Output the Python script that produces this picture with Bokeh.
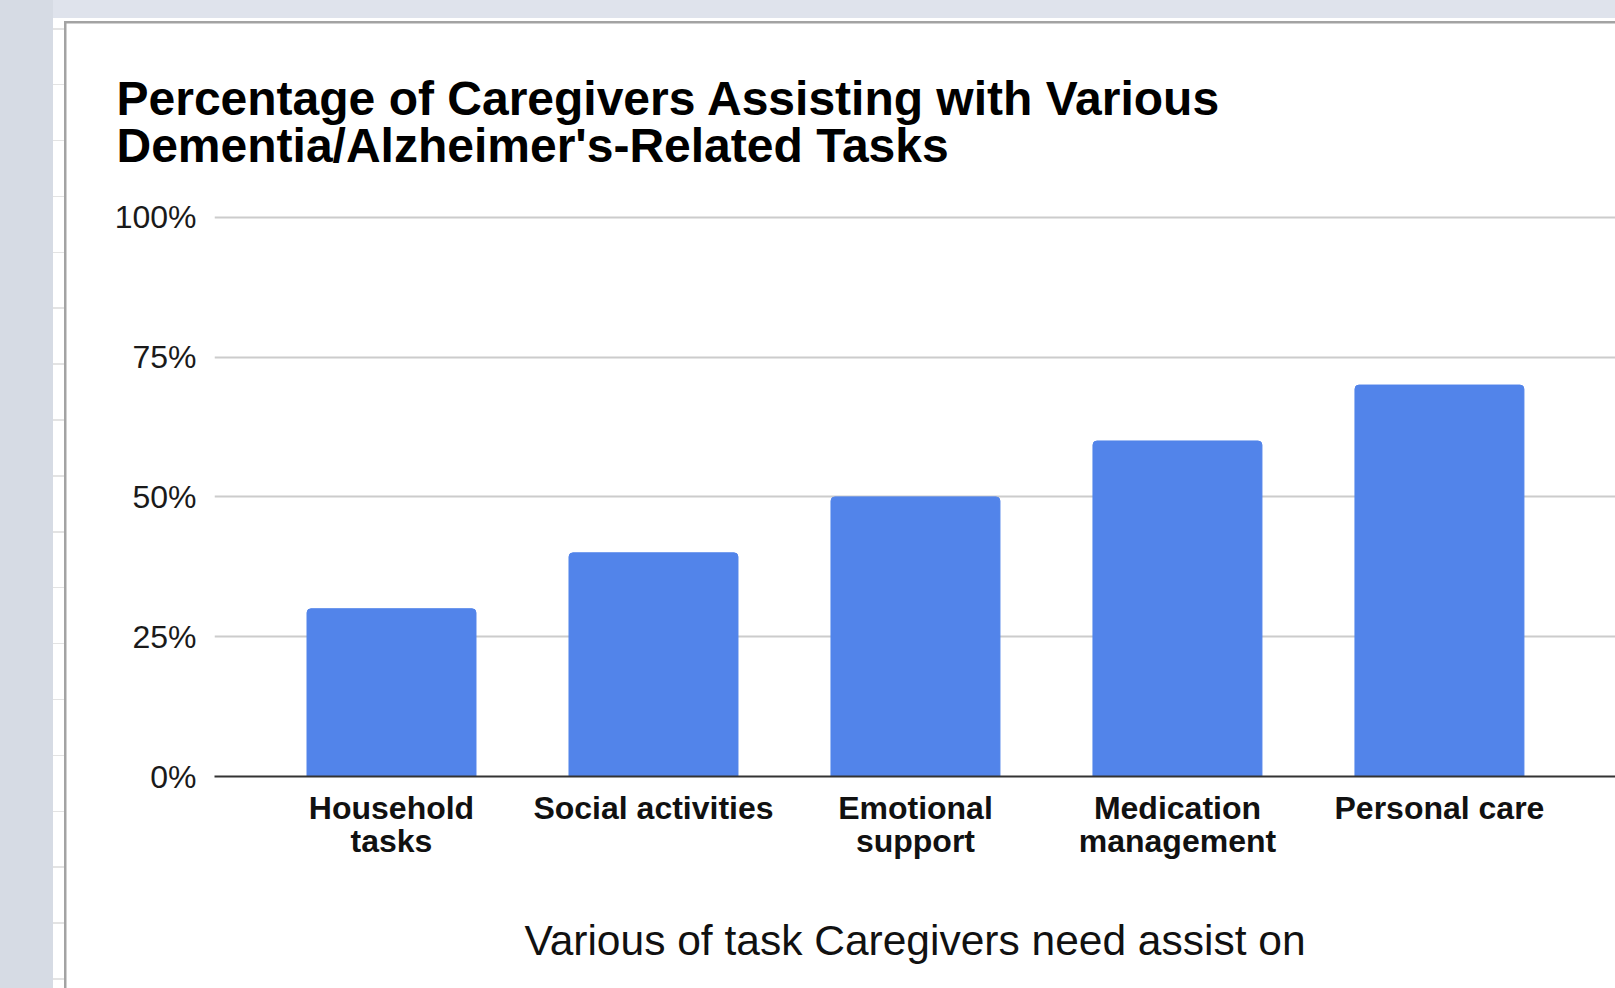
from bokeh.plotting import figure
from bokeh.models import Range1d, FixedTicker, PrintfTickFormatter, ColumnDataSource
from bokeh.embed import file_html
from bokeh.resources import INLINE

# ---- data ----
categories = ["Household\ntasks", "Social activities", "Emotional\nsupport",
              "Medication\nmanagement", "Personal care"]
percentages = [30, 40, 50, 60, 70]
y_ticks = [0, 25, 50, 75, 100]
title_text = "Percentage of Caregivers Assisting with Various\nDementia/Alzheimer's-Related Tasks"
x_title = "Various of task Caregivers need assist on"

FONT = "Liberation Sans"
BAR = "#5284EA"

positions = list(range(len(categories)))
src = ColumnDataSource(dict(x=positions, top=percentages, cat=categories))

W, H = 1615, 988
p = figure(width=W, height=H, output_backend="svg", toolbar_location=None,
           x_range=Range1d(-0.6756, 4.672), y_range=Range1d(0, 103),
           min_border_left=214, min_border_right=0, min_border_top=200, min_border_bottom=212)

p.background_fill_color = "white"
p.border_fill_color = None
p.outline_line_color = None

# page decoration behind the transparent canvas: spreadsheet strips and chart border
p.styles = {
    "background-color": "white",
    "background-image": ", ".join([
        "linear-gradient(#d6dbe4,#d6dbe4)",
        "linear-gradient(#dfe3ec,#dfe3ec)",
        "linear-gradient(#a3a3a3,#a3a3a3)",
        "linear-gradient(#a3a3a3,#a3a3a3)",
        "repeating-linear-gradient(to bottom, #e3e3e3 0px, #e3e3e3 1.5px, transparent 1.5px, transparent 55.9px)",
    ]),
    "background-size": "53px 100%, 100% 18px, 2.5px 100%, 100% 2.5px, 11px 100%",
    "background-position": "0px 0px, 0px 0px, 64px 21px, 64px 21px, 53px 28px",
    "background-repeat": "no-repeat",
}

p.vbar(x="x", top="top", width=0.645, source=src, color=BAR, border_radius=(4, 4, 0, 0))

# title
p.title.text = title_text
p.title.text_font = FONT
p.title.text_font_size = "48px"
p.title.text_font_style = "bold"
p.title.text_color = "#000000"
p.title.align = "left"
p.title.offset = -98
p.title.text_line_height = 0.9
p.title.standoff = 56

# y axis
ya = p.yaxis[0]
ya.ticker = FixedTicker(ticks=y_ticks)
ya.formatter = PrintfTickFormatter(format="%d%%")
ya.axis_line_color = None
ya.major_tick_line_color = None
ya.minor_tick_line_color = None
ya.major_label_standoff = 12
ya.major_label_text_font = FONT
ya.major_label_text_font_size = "32px"
ya.major_label_text_color = "#1a1a1a"

# x axis
xa = p.xaxis[0]
xa.ticker = FixedTicker(ticks=positions)
xa.major_label_overrides = {i: c for i, c in zip(positions, categories)}
xa.axis_line_color = "#333333"
xa.axis_line_width = 2
xa.major_tick_line_color = None
xa.minor_tick_line_color = None
xa.major_label_standoff = 7
xa.major_label_text_font = FONT
xa.major_label_text_font_size = "32px"
xa.major_label_text_font_style = "bold"
xa.major_label_text_color = "#111111"
xa.major_label_text_line_height = 0.93
xa.axis_label = x_title
xa.axis_label_text_font = FONT
xa.axis_label_text_font_size = "42.5px"
xa.axis_label_text_font_style = "normal"
xa.axis_label_text_color = "#111111"
xa.axis_label_standoff = 55

p.xgrid.grid_line_color = None
p.ygrid.ticker = FixedTicker(ticks=y_ticks)
p.ygrid.grid_line_color = "#cccccc"
p.ygrid.grid_line_width = 2

open("out.html", "w").write(file_html(p, INLINE))
